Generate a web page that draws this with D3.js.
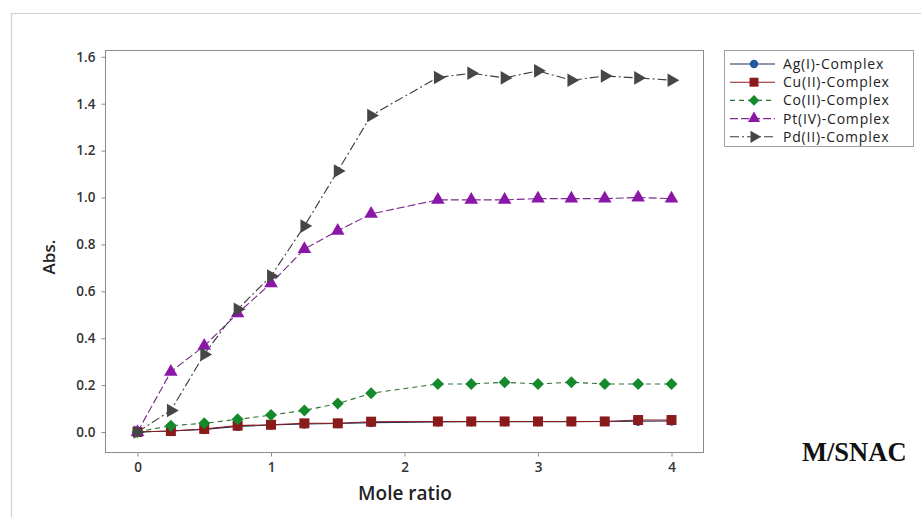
<!DOCTYPE html>
<html>
<head>
<meta charset="utf-8">
<script src="https://cdn.jsdelivr.net/npm/d3@7"></script>
<style>
  html, body { margin: 0; padding: 0; background: #fff; }
  svg { display: block; }
</style>
</head>
<body>
<svg id="chart" width="921" height="517"></svg>
<script>
// Mole ratio positions (no reading taken at 2.0)
const moleRatio = [0, 0.25, 0.5, 0.75, 1.0, 1.25, 1.5, 1.75, 2.25, 2.5, 2.75, 3.0, 3.25, 3.5, 3.75, 4.0];

// Absorbance for each complex
const agAbs = [0, 0.004, 0.011, 0.024, 0.030, 0.034, 0.036, 0.040, 0.043, 0.044, 0.044, 0.044, 0.044, 0.045, 0.046, 0.047];
const cuAbs = [0, 0.004, 0.013, 0.027, 0.031, 0.037, 0.037, 0.044, 0.045, 0.045, 0.045, 0.045, 0.045, 0.045, 0.051, 0.051];
const coAbs = [0, 0.027, 0.037, 0.054, 0.072, 0.092, 0.121, 0.165, 0.205, 0.205, 0.212, 0.205, 0.212, 0.205, 0.205, 0.205];
const ptAbs = [0, 0.257, 0.367, 0.506, 0.634, 0.78, 0.858, 0.93, 0.99, 0.99, 0.99, 0.995, 0.995, 0.995, 1.0, 0.995];
const pdAbs = [0, 0.092, 0.331, 0.523, 0.665, 0.878, 1.113, 1.35, 1.512, 1.53, 1.51, 1.54, 1.50, 1.518, 1.51, 1.50];

const seriesNames = ["Ag(I)-Complex", "Cu(II)-Complex", "Co(II)-Complex", "Pt(IV)-Complex", "Pd(II)-Complex"];
const xTicks = [0, 1, 2, 3, 4];
const yTicks = [0.0, 0.2, 0.4, 0.6, 0.8, 1.0, 1.2, 1.4, 1.6];

const styles = [
  { line: "#1d2f5c", fill: "#1f5aa0", dash: null,       symbol: d3.symbolCircle,   size: 70,  rot: 0 },
  { line: "#8a1c1c", fill: "#8b1a1a", dash: null,       symbol: d3.symbolSquare,   size: 100, rot: 0 },
  { line: "#2d6e34", fill: "#148a2c", dash: "5,4",      symbol: d3.symbolSquare,   size: 72,  rot: 45 },
  { line: "#7a2b8c", fill: "#8a17a8", dash: "8,3",      symbol: d3.symbolTriangle, size: 80,  rot: 0 },
  { line: "#3c3c3c", fill: "#464646", dash: "9,3,2,3",  symbol: d3.symbolTriangle, size: 80,  rot: 90 }
];

const series = [agAbs, cuAbs, coAbs, ptAbs, pdAbs].map((vals, i) => ({
  name: seriesNames[i],
  style: styles[i],
  points: moleRatio.map((m, j) => ({ x: m, y: vals[j] }))
}));

const svg = d3.select("#chart");
const font = "'Open Sans', 'Noto Sans', sans-serif";

// outer frame
svg.append("path")
  .attr("d", "M11.5,520 V13.5 H925")
  .attr("fill", "none")
  .attr("stroke", "#cfcfcf")
  .attr("stroke-width", 1.2);

const plot = { left: 105.5, right: 703.5, top: 50.5, bottom: 452.5 };

const x = d3.scaleLinear().domain([0, 4]).range([137.5, 671.5]);
const y = d3.scaleLinear().domain([0, 1.6]).range([432, 56.8]);

// plot frame
svg.append("rect")
  .attr("x", plot.left).attr("y", plot.top)
  .attr("width", plot.right - plot.left).attr("height", plot.bottom - plot.top)
  .attr("fill", "none").attr("stroke", "#8c8c8c").attr("stroke-width", 1);

// axes
const xAxis = svg.append("g")
  .attr("transform", `translate(0,${plot.bottom})`)
  .call(d3.axisBottom(x).tickValues(xTicks).tickFormat(d3.format("d")).tickSize(4).tickPadding(6));
const yAxis = svg.append("g")
  .attr("transform", `translate(${plot.left},0)`)
  .call(d3.axisLeft(y).tickValues(yTicks).tickFormat(d3.format(".1f")).tickSize(4).tickPadding(6));

[xAxis, yAxis].forEach(g => {
  g.select(".domain").remove();
  g.selectAll(".tick line").attr("stroke", "#8c8c8c");
  g.selectAll(".tick text")
    .attr("fill", "#333")
    .style("font-family", font)
    .style("font-size", "13.5px")
    .style("font-weight", "600");
});

// axis titles
svg.append("text")
  .attr("x", 405).attr("y", 500)
  .attr("text-anchor", "middle")
  .attr("fill", "#222")
  .style("font-family", font).style("font-size", "19px").style("font-weight", "600")
  .text("Mole ratio");

svg.append("text")
  .attr("transform", "translate(55,257) rotate(-90)")
  .attr("text-anchor", "middle")
  .attr("fill", "#222")
  .style("font-family", font).style("font-size", "17px").style("font-weight", "600")
  .text("Abs.");

// series lines and markers
const line = d3.line().x(d => x(d.x)).y(d => y(d.y));

series.forEach(s => {
  const g = svg.append("g");
  g.append("path")
    .datum(s.points)
    .attr("d", line)
    .attr("fill", "none")
    .attr("stroke", s.style.line)
    .attr("stroke-width", 1.1)
    .attr("stroke-dasharray", s.style.dash);
  g.selectAll("path.mk")
    .data(s.points)
    .join("path")
    .attr("class", "mk")
    .attr("d", d3.symbol().type(s.style.symbol).size(s.style.size))
    .attr("transform", d => `translate(${x(d.x)},${y(d.y)}) rotate(${s.style.rot})`)
    .attr("fill", s.style.fill);
});

// legend
const lg = svg.append("g");
lg.append("rect")
  .attr("x", 724.5).attr("y", 50.5).attr("width", 189).attr("height", 96)
  .attr("fill", "#fff").attr("stroke", "#a0a0a0").attr("stroke-width", 1);

series.forEach((s, i) => {
  const yy = 64 + i * 18.2;
  lg.append("line")
    .attr("x1", 730).attr("x2", 775).attr("y1", yy).attr("y2", yy)
    .attr("stroke", s.style.line).attr("stroke-width", 1.1)
    .attr("stroke-dasharray", s.style.dash);
  lg.append("path")
    .attr("d", d3.symbol().type(s.style.symbol).size(s.style.size * 0.8))
    .attr("transform", `translate(754,${yy}) rotate(${s.style.rot})`)
    .attr("fill", s.style.fill);
  lg.append("text")
    .attr("x", 783).attr("y", yy + 5)
    .attr("fill", "#222")
    .style("font-family", font).style("font-size", "14px")
    .style("letter-spacing", "0.8px")
    .text(s.name);
});

// corner label
svg.append("text")
  .attr("x", 802).attr("y", 461)
  .attr("fill", "#111")
  .style("font-family", "'Liberation Serif', 'Times New Roman', serif")
  .style("font-size", "26.5px").style("font-weight", "bold")
  .text("M/SNAC");
</script>
</body>
</html>
